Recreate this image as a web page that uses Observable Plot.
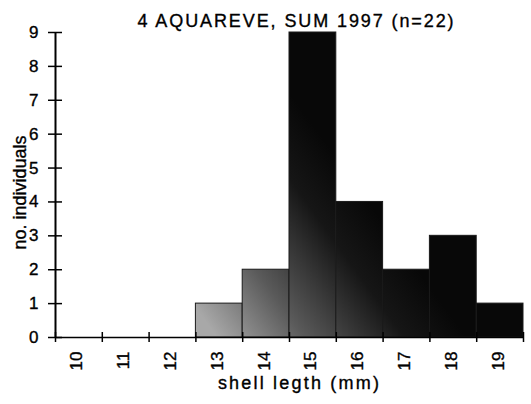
<!DOCTYPE html>
<html><head><meta charset="utf-8">
<script src="https://cdn.jsdelivr.net/npm/d3@7"></script>
<script src="https://cdn.jsdelivr.net/npm/@observablehq/plot@0.6"></script>
<style>
body{margin:0;background:#fff;}
svg{display:block;}
svg text{stroke:#000;stroke-width:0.35px;}
</style></head><body><div id="chart"></div>
<script>
const title = "4 AQUAREVE, SUM 1997 (n=22)";
const binStart = [10, 11, 12, 13, 14, 15, 16, 17, 18, 19];
const counts   = [0, 0, 0, 1, 2, 9, 4, 2, 3, 1];
const yTicks = [0, 1, 2, 3, 4, 5, 6, 7, 8, 9];
const xEdges = [10, 11, 12, 13, 14, 15, 16, 17, 18, 19, 20];
const xLabels = ["10", "11", "12", "13", "14", "15", "16", "17", "18", "19"];
const xLabel = "shell legth (mm)";
const yLabel = "no. individuals";

const data = binStart.map((s, i) => ({x1: s, x2: s + 1, y: counts[i]})).filter(d => d.y > 0);
const centers = binStart.map(s => s + 0.5);
const font = "'Liberation Sans', Arial, Helvetica, sans-serif";

const chart = Plot.plot({
  width: 531, height: 404,
  marginLeft: 55, marginRight: 8, marginTop: 32, marginBottom: 67,
  style: {fontFamily: font, fontSize: "17px", color: "#000", background: "#fff", overflow: "visible"},
  x: {domain: [10, 20], axis: null},
  y: {domain: [0, 9], axis: null},
  marks: [
    Plot.rectY(data, {x1: "x1", x2: "x2", y: "y", fill: "url(#barfill)", stroke: "#1a1a1a", strokeWidth: 1, inset: 0}),
    Plot.ruleX([10], {stroke: "#000", strokeWidth: 2}),
    Plot.ruleY([0], {stroke: "#000", strokeWidth: 1.5}),
    Plot.axisY(yTicks, {tickSize: 14, dx: 7, tickPadding: 10, label: null, fontSize: 17, strokeWidth: 1.5, tickFormat: d => String(d)}),
    Plot.axisX(xEdges, {tickSize: 10, dy: -5, tickFormat: () => "", label: null, strokeWidth: 1.5}),
    Plot.axisX(centers, {tickSize: 0, tickRotate: -90, tickPadding: 14, label: null, fontSize: 17, dx: -2,
      tickFormat: d => xLabels[binStart.indexOf(d - 0.5)]}),
    Plot.text([title], {frameAnchor: "top", dy: -18.5, dx: 7, fontSize: 18}),
    Plot.text([yLabel], {frameAnchor: "left", textAnchor: "middle", rotate: -90, dx: -35, dy: 7.5, fontSize: 18}),
    Plot.text([xLabel], {frameAnchor: "bottom", dy: 51, dx: 10, fontSize: 18})
  ]
});

const xs = chart.scale("x"), ys = chart.scale("y");
const defs = d3.select(chart).insert("defs", ":first-child");
const g = defs.append("linearGradient").attr("id", "barfill").attr("gradientUnits", "userSpaceOnUse")
  .attr("x1", xs.apply(13.3)).attr("y1", ys.apply(0.3))
  .attr("x2", xs.apply(16.8)).attr("y2", ys.apply(3.8));
g.append("stop").attr("offset", 0).attr("stop-color", "#a8a8a8");
g.append("stop").attr("offset", 0.35).attr("stop-color", "#5a5a5a");
g.append("stop").attr("offset", 0.75).attr("stop-color", "#161616");
g.append("stop").attr("offset", 1).attr("stop-color", "#080808");

d3.select(chart).selectAll("text").each(function () {
  const t = this.textContent;
  if (t === title) d3.select(this).style("letter-spacing", "1.9px");
  if (t === xLabel) d3.select(this).style("letter-spacing", "2.2px");
});

document.getElementById("chart").appendChild(chart);
</script></body></html>
